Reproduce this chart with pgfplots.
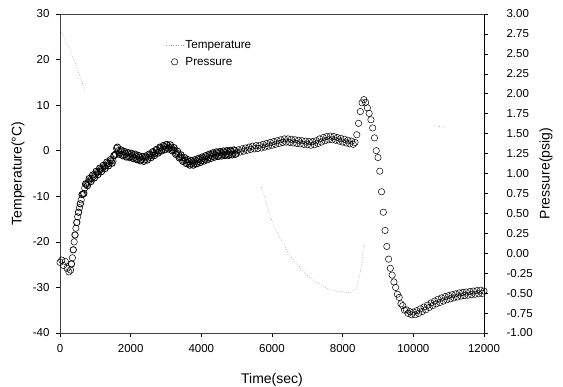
\documentclass[border=0pt]{standalone}
\usepackage{fontspec}
\setmainfont{Liberation Sans}
\usepackage{pgfplots}
\pgfplotsset{compat=1.18}
\begin{document}
\begin{tikzpicture}
\useasboundingbox (-60pt,-54pt) rectangle (503pt,333pt);
\pgfplotsset{
  common/.style={
    at={(0,0)}, anchor=south west,
    scale only axis, width=424pt, height=319pt,
    xmin=0, xmax=12000,
    /pgf/number format/assume math mode=true,
    /pgf/number format/1000 sep={},
    scaled ticks=false,
    tick align=outside,
    major tick length=4pt,
    tick style={black, line width=0.5pt},
    axis line style={black!75, line width=0.6pt},
    ticklabel style={font=\fontsize{11.5}{13}\selectfont},
    label style={font=\fontsize{14}{16}\selectfont},
  },
  tempstyle/.style={black!40, line width=0.6pt, dash pattern=on 0.6pt off 1.8pt},
  presstyle/.style={only marks, mark=o, mark size=3.2pt, mark options={black, line width=0.5pt}},
}
\begin{axis}[common,
  ymin=-40, ymax=30,
  xtick={0,2000,...,12000},
  ytick={-40,-30,...,30},
  tick pos=left,
  xticklabel style={yshift=-4pt},
  yticklabel style={xshift=-3pt},
  xlabel={Time(sec)},
  ylabel={Temperature(°C)},
  xlabel style={at={(axis description cs:0.5,-0.147)}, anchor=center},
  ylabel style={at={(axis description cs:-0.099,0.5)}, anchor=center},
  unbounded coords=jump,
]
\addplot[tempstyle] coordinates {
(0,27) (150,24.2) (314,21.7) (457,18.7) (600,15.6) (700,13.2)
(800,nan)
(5700,-8.0) (5770,-9.7) (5920,-13.6) (6060,-16.7) (6500,-23.0) (7060,-27.9)
(7500,-30.0) (7800,-30.8) (8200,-31.2) (8400,-30.1) (8490,-27.3) (8540,-24.4) (8600,-20.5)
(8700,nan)
(10600,5.5) (10750,5.3) (10900,5.2)
};
\end{axis}
\begin{axis}[common,
  ymin=-1, ymax=3,
  axis x line=none,
  axis y line*=right,
  axis line style={black, line width=0.6pt},
  ytick={-1,-0.75,...,3},
  yticklabel style={xshift=15pt, /pgf/number format/.cd, fixed, fixed zerofill, precision=2},
  ylabel={Pressure(psig)},
  ylabel style={at={(axis description cs:1.146,0.5)}, anchor=center},
  legend style={at={(axis description cs:0.242,0.93)}, anchor=north west,
    draw=none, fill=none, font=\fontsize{11.7}{13}\selectfont, row sep=3pt},
  legend cell align=left,
]
\addlegendimage{tempstyle}
\addlegendentry{Temperature}
\addplot[presstyle] table {
t p
0 -0.114
50 -0.086
100 -0.154
150 -0.103
200 -0.189
250 -0.234
300 -0.211
350 -0.057
400 0.143
450 0.314
500 0.457
550 0.571
600 0.669
650 0.743
700 0.817
750 0.863
800 0.891
850 0.920
900 0.937
950 0.966
1000 0.983
1050 1.011
1100 1.023
1150 1.051
1200 1.057
1250 1.086
1300 1.097
1350 1.126
1400 1.126
1450 1.160
1500 1.160
1550 1.229
1600 1.314
1650 1.286
1700 1.257
1750 1.274
1800 1.234
1850 1.257
1900 1.217
1950 1.246
2000 1.211
2050 1.234
2100 1.200
2150 1.223
2200 1.183
2250 1.206
2300 1.171
2350 1.194
2400 1.171
2450 1.206
2500 1.194
2550 1.234
2600 1.223
2650 1.263
2700 1.251
2750 1.291
2800 1.280
2850 1.320
2900 1.303
2950 1.337
3000 1.320
3050 1.349
3100 1.326
3150 1.331
3200 1.297
3250 1.291
3300 1.251
3350 1.246
3400 1.206
3450 1.200
3500 1.166
3550 1.171
3600 1.137
3650 1.149
3700 1.120
3750 1.143
3800 1.126
3850 1.160
3900 1.143
3950 1.177
4000 1.160
4050 1.194
4100 1.177
4150 1.211
4200 1.194
4250 1.229
4300 1.211
4350 1.246
4400 1.223
4450 1.257
4500 1.229
4550 1.263
4600 1.234
4650 1.269
4700 1.240
4750 1.274
4800 1.240
4850 1.280
4900 1.246
4950 1.286
5000 1.257
5050 1.297
5100 1.269
5150 1.309
5200 1.280
5250 1.320
5300 1.291
5350 1.331
5400 1.303
5450 1.343
5500 1.309
5550 1.349
5600 1.314
5650 1.354
5700 1.320
5750 1.366
5800 1.331
5850 1.377
5900 1.343
5950 1.389
6000 1.354
6050 1.400
6100 1.366
6150 1.411
6200 1.377
6250 1.423
6300 1.389
6350 1.434
6400 1.394
6450 1.434
6500 1.389
6550 1.429
6600 1.383
6650 1.423
6700 1.377
6750 1.417
6800 1.371
6850 1.411
6900 1.366
6950 1.406
7000 1.360
7050 1.400
7100 1.354
7150 1.400
7200 1.360
7250 1.411
7300 1.377
7350 1.434
7400 1.394
7450 1.451
7500 1.411
7550 1.463
7600 1.423
7650 1.469
7700 1.423
7750 1.463
7800 1.417
7850 1.451
7900 1.406
7950 1.440
8000 1.394
8050 1.429
8100 1.383
8150 1.417
8200 1.371
8250 1.406
8300 1.366
8350 1.389
8400 1.486
8450 1.629
8500 1.777
8550 1.886
8600 1.926
8650 1.891
8700 1.823
8750 1.754
8800 1.674
8850 1.571
8900 1.446
8950 1.286
9000 1.200
9050 1.029
9100 0.771
9150 0.514
9200 0.286
9250 0.086
9300 -0.074
9350 -0.189
9400 -0.274
9450 -0.360
9500 -0.429
9550 -0.514
9600 -0.554
9650 -0.634
9700 -0.657
9750 -0.714
9800 -0.709
9850 -0.754
9900 -0.731
9950 -0.771
10000 -0.737
10050 -0.771
10100 -0.720
10150 -0.754
10200 -0.697
10250 -0.731
10300 -0.674
10350 -0.709
10400 -0.651
10450 -0.680
10500 -0.623
10550 -0.657
10600 -0.600
10650 -0.634
10700 -0.577
10750 -0.617
10800 -0.560
10850 -0.600
10900 -0.543
10950 -0.583
11000 -0.531
11050 -0.571
11100 -0.520
11150 -0.560
11200 -0.509
11250 -0.549
11300 -0.497
11350 -0.537
11400 -0.491
11450 -0.531
11500 -0.486
11550 -0.526
11600 -0.480
11650 -0.520
11700 -0.474
11750 -0.514
11800 -0.469
11850 -0.509
11900 -0.463
11950 -0.503
12000 -0.474
};
\addlegendentry{Pressure}
\addplot[presstyle, mark options={black, line width=0.8pt}, forget plot] table {
t p
325 -0.134
375 0.043
425 0.229
475 0.386
525 0.514
575 0.620
625 0.736
675 0.750
725 0.870
775 0.847
825 0.936
875 0.899
925 0.982
975 0.945
1025 1.027
1075 0.987
1125 1.067
1175 1.024
1225 1.102
1275 1.062
1325 1.142
1375 1.096
1425 1.173
1475 1.130
1525 1.225
1575 1.242
1625 1.330
1675 1.242
1725 1.296
1775 1.224
1825 1.276
1875 1.207
1925 1.262
1975 1.199
2025 1.253
2075 1.187
2125 1.242
2175 1.173
2225 1.225
2275 1.159
2325 1.213
2375 1.153
2425 1.219
2475 1.170
2525 1.244
2575 1.199
2625 1.273
2675 1.227
2725 1.301
2775 1.256
2825 1.330
2875 1.282
2925 1.350
2975 1.299
3025 1.365
3075 1.308
3125 1.359
3175 1.284
3225 1.324
3275 1.241
3325 1.279
3375 1.196
3425 1.233
3475 1.153
3525 1.199
3575 1.124
3625 1.173
3675 1.105
3725 1.162
3775 1.105
3825 1.173
3875 1.122
3925 1.190
3975 1.139
4025 1.207
4075 1.156
4125 1.224
4175 1.173
4225 1.242
4275 1.190
4325 1.259
4375 1.205
4425 1.270
4475 1.213
4525 1.276
4575 1.219
4625 1.282
4675 1.225
4725 1.287
4775 1.227
4825 1.290
4875 1.233
4925 1.296
4975 1.242
};
\end{axis}
\end{tikzpicture}
\end{document}
